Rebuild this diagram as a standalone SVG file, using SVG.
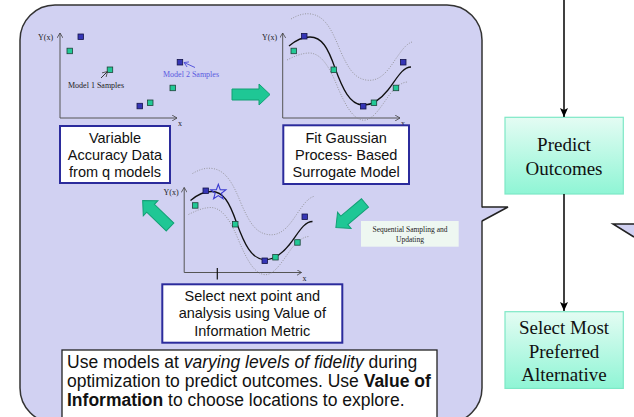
<svg xmlns="http://www.w3.org/2000/svg" xmlns:xlink="http://www.w3.org/1999/xlink" width="634" height="417" viewBox="0 0 634 417">
  <style>
    .panel { fill: #d1d1f2; stroke: #333; stroke-width: 1.5; }
    .callout { fill: #d1d1f2; stroke: none; }
    .calloutEdge { fill: none; stroke: #222; stroke-width: 1.5; }
    .step { fill: #fff; stroke: #2b2b9c; stroke-width: 2; }
    .stepText { font-family: "Liberation Sans", Arial, sans-serif; font-size: 14.5px; fill: #111; text-anchor: middle; }
    .noteText { font-family: "Liberation Sans", Arial, sans-serif; font-size: 17.5px; fill: #111; }
    .axis { fill: none; stroke: #555; stroke-width: 1; }
    .axisLbl { font-family: "Liberation Serif", "Times New Roman", serif; font-size: 8px; fill: #222; }
    .mean { fill: none; stroke: #111; stroke-width: 1.3; }
    .band { fill: none; stroke: #888; stroke-width: 0.8; stroke-dasharray: 1 1.5; }
    .ptB { fill: #3535b5; stroke: #15154a; stroke-width: 0.8; }
    .ptG { fill: #22c996; stroke: #1d4438; stroke-width: 0.8; }
    .flow { fill: #1fc795; stroke: #12a075; stroke-width: 1; }
    .box { fill: url(#mint); stroke: #7ee8c6; stroke-width: 1.2; }
    .boxText { font-family: "Liberation Serif", "Times New Roman", serif; font-size: 19px; fill: #111; text-anchor: middle; }
    .link { fill: none; stroke: #000; stroke-width: 1.5; }
  </style>
  <defs>
    <linearGradient id="mint" x1="0" y1="0" x2="0" y2="1">
      <stop offset="0" stop-color="#e4fcf3"/>
      <stop offset="1" stop-color="#8ff5d5"/>
    </linearGradient>
    <marker id="tip" markerUnits="userSpaceOnUse" markerWidth="10" markerHeight="10" refX="9" refY="4" orient="auto">
      <path d="M0,0 L9,4 L0,8 L2,4 Z" fill="#000"/>
    </marker>
    <marker id="small" markerUnits="userSpaceOnUse" markerWidth="6" markerHeight="6" refX="5" refY="3" orient="auto">
      <path d="M0,0 L5,3 L0,6" fill="none" stroke="#444" stroke-width="0.8"/>
    </marker>
    <marker id="smallBlue" markerUnits="userSpaceOnUse" markerWidth="6" markerHeight="6" refX="5" refY="3" orient="auto">
      <path d="M0,0 L5,3 L0,6" fill="none" stroke="#4a4ad8" stroke-width="0.8"/>
    </marker>
    <path id="fatArrow" d="M0,-5.5 L27,-5.5 L27,-10.5 L38,0 L27,10.5 L27,5.5 L0,5.5 Z"/>
    <!-- surrogate fit: axes, mean curve, confidence band, samples -->
    <g id="gpFit">
      <path class="axis" d="M282.7,118 L282.7,33" marker-end="url(#small)"/>
      <path class="axis" d="M282.7,118 L400,118" marker-end="url(#small)"/>
      <path class="band" d="M291,19 C298,15 304,13 311,14 C325,16 332,30 340,50 C348,68 354,78 366,80 C378,82 386,74 395,60 C402,50 406,44 412,42"/>
      <path class="band" d="M287,60 C295,56 302,53 310,53 C322,54 330,68 338,88 C345,104 352,118 362,120 C372,122 380,108 390,94 C397,86 402,82 408,82"/>
      <path class="mean" d="M289,46 C296,40 302,37 310,37 C322,37 328,48 335,68 C343,90 350,104 362,105 C372,106 380,100 388,90 C396,80 402,67 411,67"/>
      <rect class="ptB" x="301.5" y="33.5" width="5.5" height="5.5"/>
      <rect class="ptG" x="291" y="48.2" width="5.5" height="5.5"/>
      <rect class="ptG" x="331" y="67" width="5.5" height="5.5"/>
      <rect class="ptB" x="360.5" y="103.5" width="5.5" height="5.5"/>
      <rect class="ptG" x="371.2" y="100" width="5.5" height="5.5"/>
      <rect class="ptG" x="393.2" y="85.2" width="5.5" height="5.5"/>
      <rect class="ptB" x="400.5" y="59.5" width="5.5" height="5.5"/>
    </g>
  </defs>

  <!-- optimization loop panel with its callout -->
  <g id="loop-panel">
    <rect class="panel" x="20" y="5" width="462" height="418" rx="35" ry="35"/>
    <polygon class="callout" points="481,207.5 508,207 481,221"/>
    <path class="calloutEdge" d="M482,207 L508,207 L482,221"/>
  </g>

  <!-- neighbouring panel callout at the right margin -->
  <g id="side-callout">
    <polygon class="callout" points="613,224 634,224 634,237"/>
    <path class="calloutEdge" d="M634,224 L613,224 L634,237"/>
  </g>

  <!-- raw samples from models of varying accuracy -->
  <g id="samples-plot">
    <path class="axis" d="M60,118 L60,33" marker-end="url(#small)"/>
    <path class="axis" d="M60,118 L177,118" marker-end="url(#small)"/>
    <text class="axisLbl" x="38" y="40">Y(x)</text>
    <text class="axisLbl" x="178" y="126">x</text>
    <rect class="ptB" x="78" y="34" width="5.5" height="5.5"/>
    <rect class="ptG" x="67" y="48.2" width="5.5" height="5.5"/>
    <rect class="ptG" x="107.2" y="67" width="5.5" height="5.5"/>
    <rect class="ptB" x="177.2" y="59.5" width="5.5" height="5.5"/>
    <rect class="ptG" x="170" y="85.2" width="5.5" height="5.5"/>
    <rect class="ptG" x="147.5" y="100" width="5.5" height="5.5"/>
    <rect class="ptB" x="137" y="103.3" width="5.5" height="5.5"/>
    <path d="M101,78 L107.5,71.5" fill="none" stroke="#222" stroke-width="0.9" marker-end="url(#small)"/>
    <text class="axisLbl" x="68" y="88">Model 1 Samples</text>
    <path d="M195,67.5 L184,62.5" fill="none" stroke="#4a4ad8" stroke-width="0.9" marker-end="url(#smallBlue)"/>
    <text class="axisLbl" x="163" y="77" fill="#5a5ae0" style="fill:#5a5ae0">Model 2 Samples</text>
  </g>

  <g id="step-data">
    <rect class="step" x="60" y="126" width="110" height="57"/>
    <text class="stepText" x="115" y="142.5">Variable</text>
    <text class="stepText" x="115" y="159.5">Accuracy Data</text>
    <text class="stepText" x="115" y="176.5">from q models</text>
  </g>

  <!-- fitted surrogate -->
  <g id="fit-plot">
    <use xlink:href="#gpFit"/>
    <text class="axisLbl" x="262" y="40">Y(x)</text>
    <text class="axisLbl" x="401" y="126">x</text>
  </g>

  <g id="step-fit">
    <rect class="step" x="283.3" y="125.3" width="125.7" height="58.7"/>
    <text class="stepText" x="346.2" y="142.5">Fit Gaussian</text>
    <text class="stepText" x="346.2" y="159.5">Process- Based</text>
    <text class="stepText" x="346.2" y="176.5">Surrogate Model</text>
  </g>

  <!-- surrogate with the next sample location marked -->
  <g id="select-plot">
    <use xlink:href="#gpFit" transform="translate(-98.5,154.5)"/>
    <text class="axisLbl" x="163.5" y="194.5">Y(x)</text>
    <text class="axisLbl" x="302.5" y="280.5">x</text>
    <path d="M217.3,268 L217.3,279.5" fill="none" stroke="#111" stroke-width="1.2"/>
    <polygon transform="translate(218.3,192.3)" points="0,-8 1.94,-2.67 7.61,-2.47 3.14,1.02 4.7,6.47 0,3.3 -4.7,6.47 -3.14,1.02 -7.61,-2.47 -1.94,-2.67" fill="none" stroke="#3a3ad0" stroke-width="1.1"/>
  </g>

  <g id="step-select">
    <rect class="step" x="162.3" y="284.3" width="180" height="58.4"/>
    <text class="stepText" x="252.3" y="300.5">Select next point and</text>
    <text class="stepText" x="252.3" y="318">analysis using Value of</text>
    <text class="stepText" x="252.3" y="335.5">Information Metric</text>
  </g>

  <g id="sequential-note">
    <rect x="361" y="221" width="97.7" height="25.7" fill="#eef7f1"/>
    <text x="410" y="231.5" font-family="'Liberation Serif', 'Times New Roman', serif" font-size="7.5" fill="#222" text-anchor="middle">Sequential Sampling and</text>
    <text x="410" y="242" font-family="'Liberation Serif', 'Times New Roman', serif" font-size="7.5" fill="#222" text-anchor="middle">Updating</text>
  </g>

  <g id="summary-note">
    <rect x="62" y="350" width="375" height="72" fill="#fff" stroke="#222" stroke-width="1.3"/>
    <text class="noteText" x="67" y="368">Use models at <tspan font-style="italic">varying levels of fidelity</tspan> during</text>
    <text class="noteText" x="67" y="387">optimization to predict outcomes. Use <tspan font-weight="bold">Value of</tspan></text>
    <text class="noteText" x="67" y="406"><tspan font-weight="bold">Information</tspan> to choose locations to explore.</text>
  </g>

  <!-- loop arrows between the steps -->
  <g id="loop-arrows">
    <use class="flow" xlink:href="#fatArrow" transform="translate(232,94.5)"/>
    <use class="flow" xlink:href="#fatArrow" transform="translate(365,203) rotate(140)"/>
    <use class="flow" xlink:href="#fatArrow" transform="translate(170,227) rotate(-136)"/>
  </g>

  <g id="predict-outcomes">
    <rect class="box" x="505" y="117.3" width="118.3" height="76.7"/>
    <text class="boxText" x="564" y="151">Predict</text>
    <text class="boxText" x="564" y="175">Outcomes</text>
  </g>

  <g id="select-alternative">
    <rect class="box" x="505" y="311.7" width="118.3" height="76.7"/>
    <text class="boxText" x="564" y="334">Select Most</text>
    <text class="boxText" x="564" y="358">Preferred</text>
    <text class="boxText" x="564" y="381">Alternative</text>
  </g>

  <g id="connectors">
    <path class="link" d="M564,0 L564,117" marker-end="url(#tip)"/>
    <path class="link" d="M564,194 L564,311" marker-end="url(#tip)"/>
  </g>
</svg>
